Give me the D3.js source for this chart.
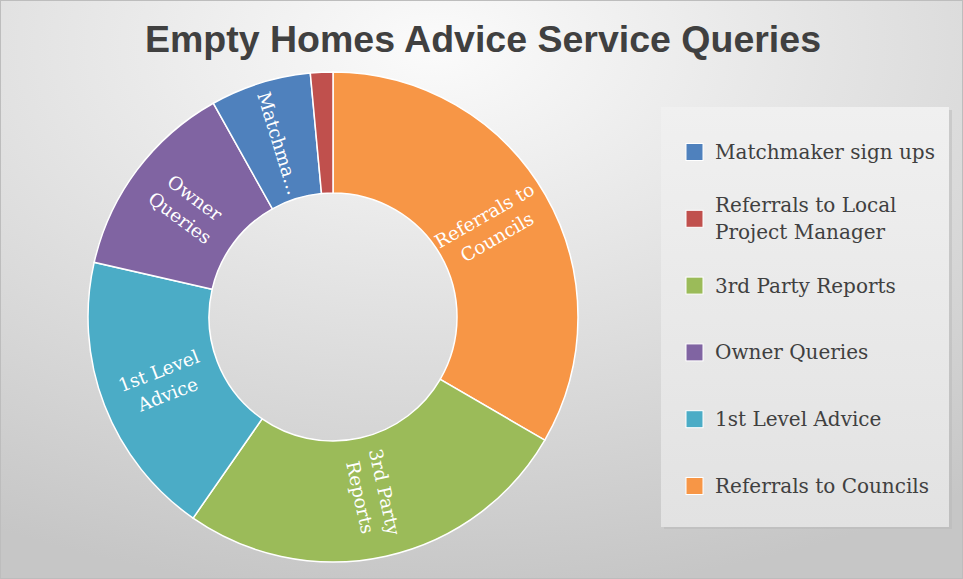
<!DOCTYPE html>
<html>
<head>
<meta charset="utf-8">
<script src="https://cdn.jsdelivr.net/npm/d3@7"></script>
<style>
  html, body { margin: 0; padding: 0; background: #fff; }
  svg { display: block; }
</style>
</head>
<body>
<script>
// data (clockwise from 12 o'clock)
var segments = ["Referrals to Councils", "3rd Party Reports", "1st Level Advice", "Owner Queries", "Matchmaker sign ups", "Referrals to Local Project Manager"]
var values = [226, 178, 128, 90, 45, 10]
var colors = ["#F79646", "#9BBB59", "#4BACC6", "#8064A2", "#4F81BD", "#C0504D"]
var sliceLabels = [["Referrals to", "Councils"], ["3rd Party", "Reports"], ["1st Level", "Advice"], ["Owner", "Queries"], ["Matchma\u2026"], []]
var legendOrder = ["Matchmaker sign ups", "Referrals to Local Project Manager", "3rd Party Reports", "Owner Queries", "1st Level Advice", "Referrals to Councils"]
var legendLines = [["Matchmaker sign ups"], ["Referrals to Local", "Project Manager"], ["3rd Party Reports"], ["Owner Queries"], ["1st Level Advice"], ["Referrals to Councils"]]
var title = "Empty Homes Advice Service Queries"

var width = 963, height = 579
var center = {x: 333, y: 317}
var radius = {inner: 124, outer: 245, label: 182}
var serif = "'DejaVu Serif', 'Liberation Serif', serif"

var color = d3.scaleOrdinal().domain(segments).range(colors)

var svg = d3.select("body").append("svg")
  .attr("width", width)
  .attr("height", height)

var defs = svg.append("defs")
var bg = defs.append("radialGradient").attr("id", "bg")
  .attr("cx", "45%").attr("cy", "8%").attr("r", "95%")
bg.append("stop").attr("offset", "0%").attr("stop-color", "#fbfbfb")
bg.append("stop").attr("offset", "100%").attr("stop-color", "#c6c6c6")

var legendGrad = defs.append("linearGradient").attr("id", "lg")
  .attr("x1", 0).attr("y1", 0).attr("x2", 0).attr("y2", 1)
legendGrad.append("stop").attr("offset", "0%").attr("stop-color", "#f0f0f0")
legendGrad.append("stop").attr("offset", "100%").attr("stop-color", "#e2e2e2")

// background + frame
svg.append("rect")
  .attr("x", 0.5).attr("y", 0.5)
  .attr("width", width - 1).attr("height", height - 1)
  .style("fill", "url(#bg)")
  .style("stroke", "#bdbdbd")

// title
svg.append("text")
  .attr("x", 483).attr("y", 52)
  .attr("text-anchor", "middle")
  .attr("font-family", "'Liberation Sans', Arial, sans-serif")
  .attr("font-weight", "bold")
  .attr("font-size", "37.5px")
  .style("fill", "#404040")
  .text(title)

// donut
var pie = d3.pie().sort(null).value(function(d) { return d.value })
var arc = d3.arc().innerRadius(radius.inner).outerRadius(radius.outer)
var labelArc = d3.arc().innerRadius(radius.label).outerRadius(radius.label)

var rows = segments.map(function(s, i) { return {name: s, value: values[i], label: sliceLabels[i]} })

var g = svg.append("g").attr("transform", "translate(" + center.x + "," + center.y + ")")

g.selectAll(".slice")
  .data(pie(rows))
  .enter().append("path")
  .attr("d", arc)
  .style("fill", function(d) { return color(d.data.name) })
  .style("stroke", "#fff")
  .style("stroke-width", 1.5)

// labels along the radius
var lh = 25
var lab = g.selectAll(".lab")
  .data(pie(rows).filter(function(d) { return d.data.label.length }))
  .enter().append("text")
  .attr("transform", function(d) {
    var c = labelArc.centroid(d)
    var a = (d.startAngle + d.endAngle) / 2 * 180 / Math.PI
    var rot = a <= 180 ? a - 90 : a - 270
    return "translate(" + c[0] + "," + c[1] + ") rotate(" + rot + ")"
  })
  .attr("text-anchor", "middle")
  .attr("font-family", serif)
  .attr("font-size", "18.5px")
  .style("fill", "#fff")

lab.selectAll("tspan")
  .data(function(d) {
    var n = d.data.label.length
    return d.data.label.map(function(t, i) { return {t: t, dy: (i - (n - 1) / 2) * lh} })
  })
  .enter().append("tspan")
  .attr("x", 0)
  .attr("y", function(d) { return d.dy })
  .attr("dy", "0.35em")
  .text(function(d) { return d.t })

// legend
var legend = svg.append("g")
svg.insert("rect", "g:last-child")
  .attr("x", 664).attr("y", 110).attr("width", 288).attr("height", 419)
  .style("fill", "#b8b8b8").style("opacity", 0.5)
legend.append("rect")
  .attr("x", 661).attr("y", 107).attr("width", 288).attr("height", 420)
  .style("fill", "url(#lg)")

var ly = d3.scalePoint().domain(legendOrder).range([152, 486])

var item = legend.selectAll(".item")
  .data(legendOrder)
  .enter().append("g")
  .attr("transform", function(d) { return "translate(0," + ly(d) + ")" })

item.append("rect")
  .attr("x", 686).attr("y", -8.5)
  .attr("width", 17).attr("height", 17)
  .style("fill", function(d) { return color(d) })
  .style("stroke", "#fff")
  .style("stroke-width", 1)

item.append("text")
  .attr("font-family", serif)
  .attr("font-size", "20px")
  .style("fill", "#404040")
  .each(function(d, i) {
    var lines = legendLines[i]
    var t = d3.select(this)
    lines.forEach(function(s, j) {
      t.append("tspan")
        .attr("x", 715)
        .attr("y", lines.length > 1 ? -6.5 + j * 27 : 7)
        .text(s)
    })
  })
</script>
</body>
</html>
